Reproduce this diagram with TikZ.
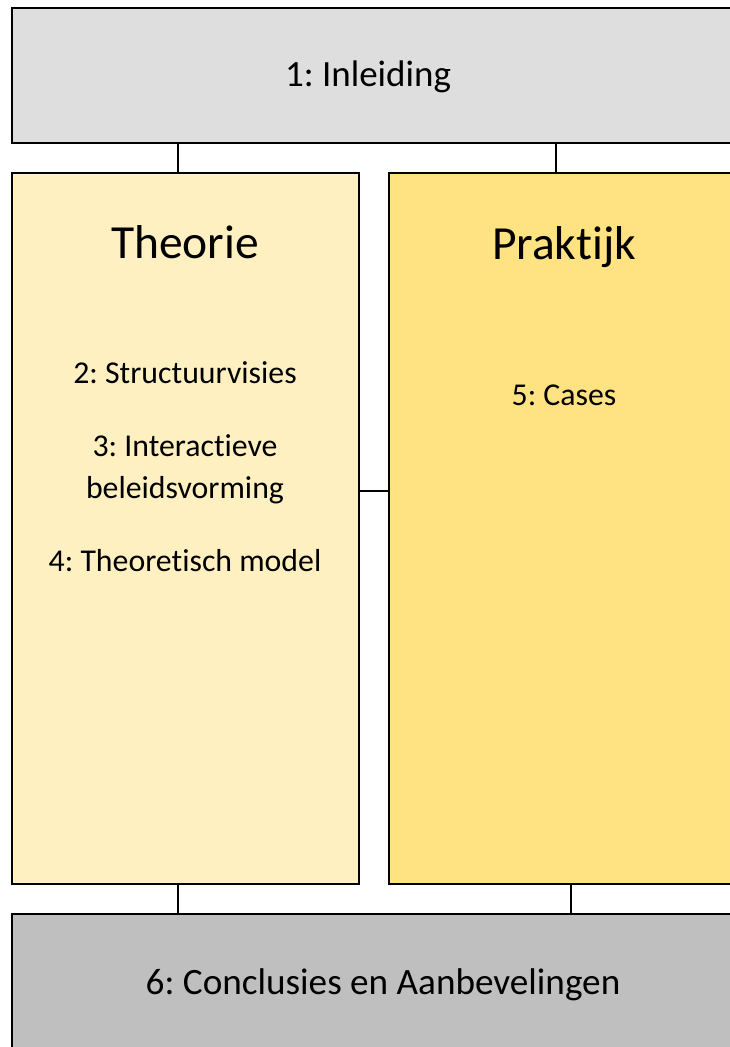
\documentclass[tikz,border=0pt]{standalone}
\usepackage{fontspec}
\setmainfont{Carlito}[Ligatures=NoCommon]
\frenchspacing
\definecolor{introgray}{HTML}{DEDEDE}
\definecolor{theorycol}{HTML}{FFF0C1}
\definecolor{practicecol}{HTML}{FFE281}
\definecolor{concgray}{HTML}{BFBFBF}
\begin{document}
\begin{tikzpicture}[x=1pt,y=-1pt,
  box/.style={draw=black,line width=1.4pt,inner sep=0pt,outer sep=0pt},
  link/.style={draw=black,line width=1.1pt},
  label/.style={anchor=base,inner sep=0pt,text=black},
  item/.style={label,font=\fontsize{31.8}{35}\selectfont},
  heading/.style={label,font=\fontsize{47.5}{52}\selectfont}]
  \useasboundingbox (0,0) rectangle (730,1047);
  \clip (0,0) rectangle (730,1047);
  % chapter blocks
  \node[box,fill=introgray,minimum width=740pt,minimum height=135pt,anchor=north west] (intro) at (12,8) {};
  \node[box,fill=theorycol,minimum width=347pt,minimum height=711pt,anchor=north west] (theory) at (12,173) {};
  \node[box,fill=practicecol,minimum width=360pt,minimum height=711pt,anchor=north west] (practice) at (389,173) {};
  \node[box,fill=concgray,minimum width=740pt,minimum height=150pt,anchor=north west] (conc) at (12,914) {};
  % connectors
  \draw[link] (178,0 |- intro.south) -- (178,0 |- theory.north);
  \draw[link] (556,0 |- intro.south) -- (556,0 |- practice.north);
  \draw[link] (theory.east |- 0,491) -- (practice.west |- 0,491);
  \draw[link] (178,0 |- theory.south) -- (178,0 |- conc.north);
  \draw[link] (571,0 |- practice.south) -- (571,0 |- conc.north);
  % texts
  \node[label,font=\fontsize{37}{40}\selectfont] (t1) at (368,86) {1: Inleiding};
  \node[heading] (th) at (185,258) {Theorie};
  \node[heading] (pr) at (564,259) {Praktijk};
  \node[item] (t2) at (185,383) {2: Structuurvisies};
  \node[item] (t3a) at (185,456) {3: Interactieve};
  \node[item] (t3b) at (185,498) {beleidsvorming};
  \node[item] (t4) at (185,571) {4: Theoretisch model};
  \node[item] (t5) at (564,405) {5: Cases};
  \node[label,font=\fontsize{37.2}{41}\selectfont] (t6) at (383,994) {6: Conclusies en Aanbevelingen};
\end{tikzpicture}
\end{document}
